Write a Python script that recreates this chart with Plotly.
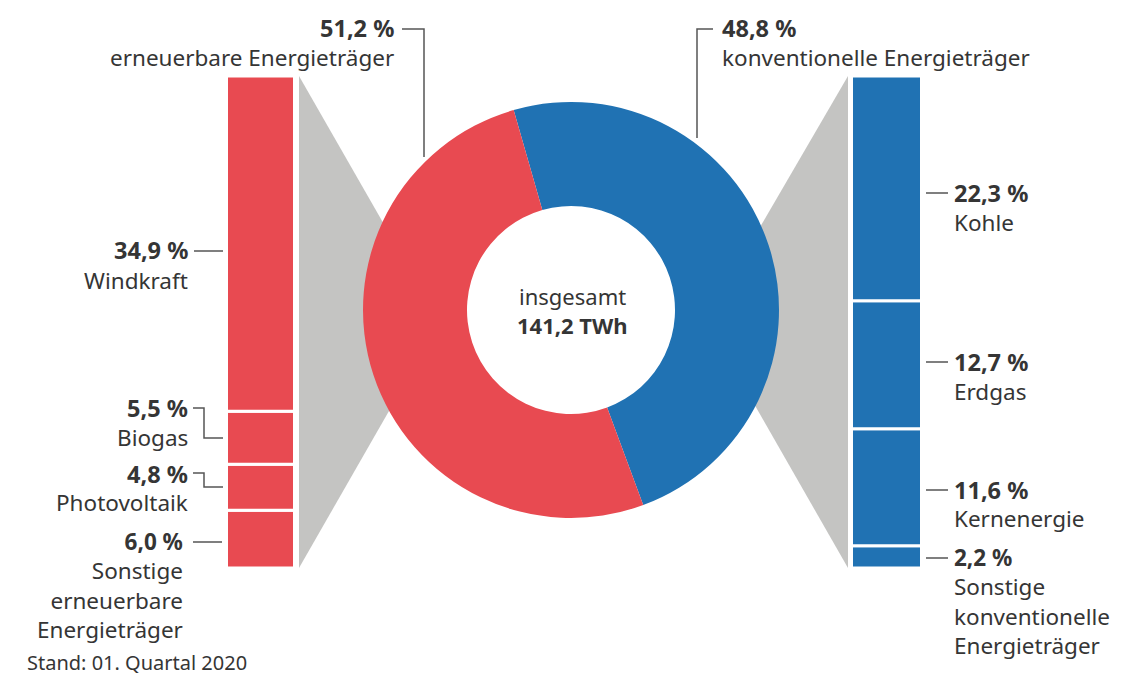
import plotly.graph_objects as go

# ---------------- data ----------------
groups = ["erneuerbare Energieträger", "konventionelle Energieträger"]
group_values = [51.2, 48.8]
total_label = "141,2 TWh"

ren_names = ["Windkraft", "Biogas", "Photovoltaik", "Sonstige erneuerbare Energieträger"]
ren_values = [34.9, 5.5, 4.8, 6.0]

con_names = ["Kohle", "Erdgas", "Kernenergie", "Sonstige konventionelle Energieträger"]
con_values = [22.3, 12.7, 11.6, 2.2]

footnote = "Stand: 01. Quartal 2020"

# ---------------- style ----------------
RED = "#E84A51"
BLUE = "#2072B3"
GRAY = "#C4C4C2"
TXT = "#353535"
LINE = "#555555"
FONT = "Noto Sans"
REG = 22.5
BOLD = 23.5
W, H = 1122, 678

BAR_TOP, BAR_BOT = 76, 568
unit = BAR_BOT - BAR_TOP


def fmt(v):
    return f"{v:.1f}".replace(".", ",") + " %"


def px(x):
    return x / W


def py(y):
    return 1 - y / H


fig = go.Figure()


def add_stack(names, values, xc, width, color):
    total = sum(values)
    base = 0.0
    for n, v in reversed(list(zip(names, values))):
        h = v / total
        fig.add_trace(go.Bar(
            x=[xc], y=[h], base=[base], width=[width],
            marker=dict(color=color, line=dict(color="white", width=3)),
            name=n, hoverinfo="name", showlegend=False))
        base += h


add_stack(ren_names, ren_values, 260.5, 68, RED)
add_stack(con_names, con_values, 886.5, 70, BLUE)

# donut
cx, cy, r = 571, 310, 208
fig.add_trace(go.Pie(
    values=group_values[::-1], labels=groups[::-1],
    marker=dict(colors=[BLUE, RED], line=dict(width=0)),
    hole=0.5, sort=False, direction="clockwise", rotation=-16,
    textinfo="none", hoverinfo="label+percent", showlegend=False,
    domain=dict(x=[px(cx - r), px(cx + r)], y=[py(cy + r), py(cy - r)])))

shapes = []
# gray connectors
shapes.append(dict(type="path", xref="paper", yref="paper", layer="below",
                   path=f"M {px(299)} {py(76)} L {px(440)} {py(322)} L {px(299)} {py(568)} Z",
                   fillcolor=GRAY, line=dict(width=0)))
shapes.append(dict(type="path", xref="paper", yref="paper", layer="below",
                   path=f"M {px(848)} {py(76)} L {px(706)} {py(320)} L {px(848)} {py(568)} Z",
                   fillcolor=GRAY, line=dict(width=0)))


def polyline(pts):
    d = "M " + " L ".join(f"{px(x)} {py(y)}" for x, y in pts)
    shapes.append(dict(type="path", xref="paper", yref="paper", path=d,
                       line=dict(color=LINE, width=1.5)))


polyline([(402, 29), (424, 29), (424, 157)])
polyline([(713, 29), (697, 29), (697, 138)])
polyline([(194, 251), (223, 251)])
polyline([(193, 408), (204, 408), (204, 438), (223, 438)])
polyline([(193, 473), (204, 473), (204, 487), (223, 487)])
polyline([(193, 542), (222, 542)])
polyline([(926, 193), (948, 193)])
polyline([(926, 362), (948, 362)])
polyline([(926, 490), (948, 490)])
polyline([(926, 558), (948, 558)])

ann = []


def text(x, y, t, anchor, bold=False, size=REG, yanchor="middle"):
    if bold:
        t = f"<b>{t}</b>"
    ann.append(dict(x=px(x), y=py(y), xref="paper", yref="paper", text=t,
                    showarrow=False, xanchor=anchor, yanchor=yanchor, align=anchor,
                    font=dict(family=FONT, size=size, color=TXT)))


# group labels
text(396, 28, fmt(group_values[0]), "right", True, BOLD)
text(396, 57, groups[0], "right")
text(720, 28, fmt(group_values[1]), "left", True, BOLD)
text(720, 57, groups[1], "left")

# left labels
text(190, 250, fmt(ren_values[0]), "right", True, BOLD)
text(190, 280, ren_names[0], "right")
text(190, 408, fmt(ren_values[1]), "right", True, BOLD)
text(190, 437, ren_names[1], "right")
text(190, 474, fmt(ren_values[2]), "right", True, BOLD)
text(190, 502, ren_names[2], "right")
text(185, 585, f"<b>{fmt(ren_values[3])}</b><br>" + "<br>".join(ren_names[3].split(" ")),
     "right", False, 22.5)

# right labels
text(952, 193, fmt(con_values[0]), "left", True, BOLD)
text(952, 222, con_names[0], "left")
text(952, 362, fmt(con_values[1]), "left", True, BOLD)
text(952, 391, con_names[1], "left")
text(952, 490, fmt(con_values[2]), "left", True, BOLD)
text(952, 518, con_names[2], "left")
text(952, 601, f"<b>{fmt(con_values[3])}</b><br>" + "<br>".join(con_names[3].split(" ")),
     "left", False, 22.5)

# centre
text(572, 296, "insgesamt", "center", False, 22)
text(572, 325, total_label, "center", True, 22)

# footnote
text(25, 678, footnote, "left", False, 20, yanchor="bottom")

fig.update_layout(
    width=W, height=H, margin=dict(l=0, r=0, t=0, b=0),
    paper_bgcolor="white", plot_bgcolor="white",
    barmode="overlay", showlegend=False,
    xaxis=dict(range=[0, W], visible=False, fixedrange=True),
    yaxis=dict(range=[-(H - BAR_BOT) / unit, 1 + BAR_TOP / unit], visible=False, fixedrange=True),
    shapes=shapes, annotations=ann)

fig.write_html("out.html", config={"displayModeBar": False},
               post_script="document.body.style.margin='0';document.body.style.overflow='hidden';")
